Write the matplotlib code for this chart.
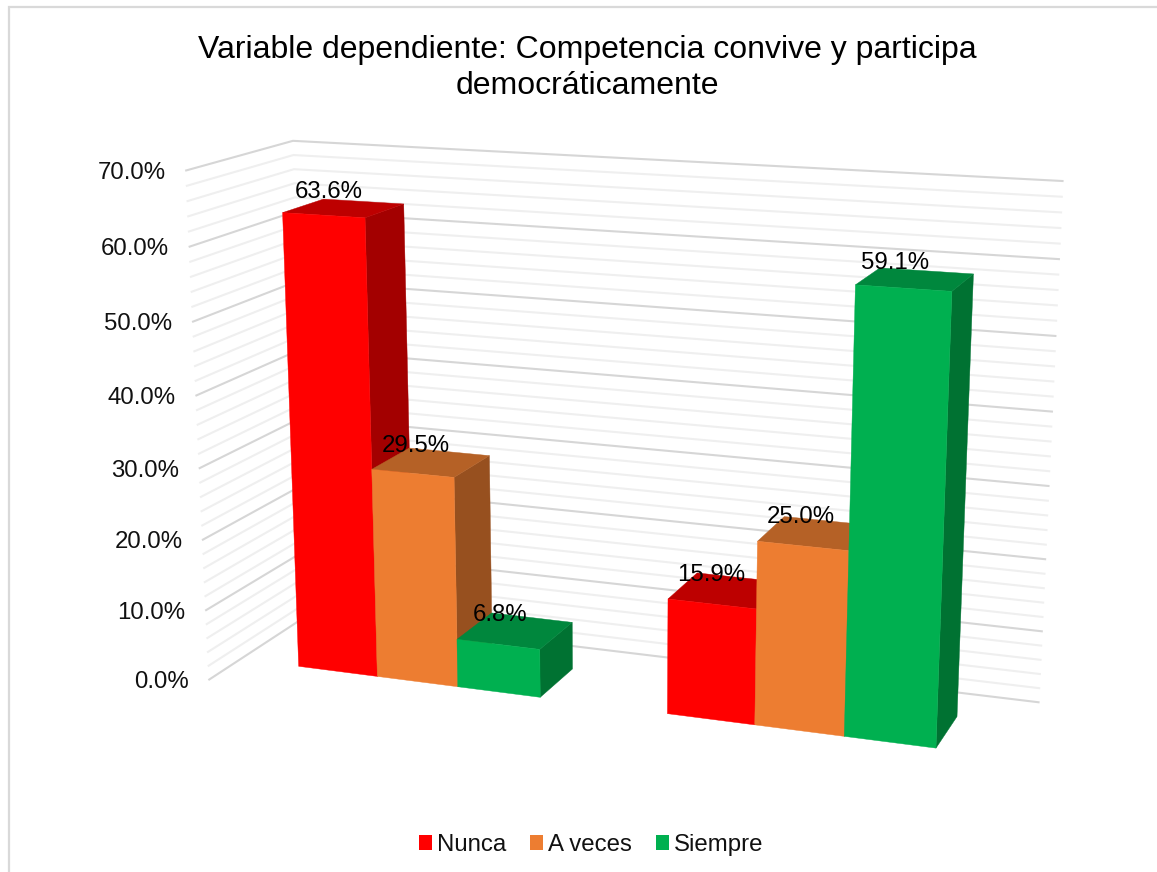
import numpy as np
import matplotlib
matplotlib.use("Agg")
import matplotlib.pyplot as plt
from matplotlib.patches import Patch

plt.rcParams['font.family'] = ['Liberation Sans', 'DejaVu Sans']

# ---- data ----
title = "Variable dependiente: Competencia convive y participa\ndemocráticamente"
series_names = ["Nunca", "A veces", "Siempre"]
nunca = [63.6, 15.9]
a_veces = [29.5, 25.0]
siempre = [6.8, 59.1]
y_ticks = [0, 10, 20, 30, 40, 50, 60, 70]

# ---- styles ----
front_cols = ["#FF0000", "#ED7D31", "#00B050"]
top_cols = ["#BD0000", "#B56126", "#00873D"]
side_cols = ["#A30000", "#97501F", "#007232"]
GAP = 1.5        # gap between groups, in bar widths
DEPTH_GAP = 0.75  # wall margin in front of and behind the bars
GRID_MAJOR = "#D6D6D6"
GRID_MINOR = "#EFEFEF"

W, H = 1157, 872

# ---- camera: world (bar units, value, depth) -> canvas, fitted to the wall/bar layout ----
camera_world = np.array([
    (-.75, 0, -.75), (-.75, 70, -.75), (-.75, 70, 1.75), (8.25, 70, 1.75), (8.25, 0, 1.75),
    (8.25, 60, 1.75), (0, 0, 0), (1, 0, 0), (0, 63.6, 0), (1, 63.6, 0), (0, 63.6, 1),
    (1, 63.6, 1), (3, 0, 0), (3, 0, 1), (3, 6.8, 0), (3, 6.8, 1), (4.5, 0, 0), (5.5, 0, 0),
    (6.5, 0, 0), (7.5, 0, 0), (7.5, 0, 1), (7.5, 59.1, 0), (7.5, 59.1, 1), (6.5, 59.1, 0),
    (6.5, 59.1, 1)], dtype=float)
camera_canvas = np.array([
    (209, 680), (186, 171), (293, 141), (1063, 181), (1039, 702),
    (1059, 259), (299, 667), (378, 676), (283, 212), (365, 217), (323, 199),
    (404, 204), (540, 697), (572, 669), (540, 649), (572, 622), (667, 714), (755, 725),
    (844, 736), (936, 748), (957, 717), (952, 291), (973, 274), (856, 285),
    (879, 269)], dtype=float)


def fit_camera(world, canvas):
    rows, rhs = [], []
    for (x, y, z), (u, v) in zip(world, canvas):
        rows.append([x, y, z, 1, 0, 0, 0, 0, -u * x, -u * y, -u * z]); rhs.append(u)
        rows.append([0, 0, 0, 0, x, y, z, 1, -v * x, -v * y, -v * z]); rhs.append(v)
    sol = np.linalg.lstsq(np.array(rows), np.array(rhs), rcond=None)[0]
    return np.append(sol, 1).reshape(3, 4)


P = fit_camera(camera_world, camera_canvas)


def proj(x, y, z):
    p = P @ np.array([x, y, z, 1.0])
    return p[0] / p[2], p[1] / p[2]


# ---- figure ----
fig = plt.figure(figsize=(W / 100, H / 100), dpi=100)
ax = fig.add_axes([0, 0, 1, 1])
ax.set_xlim(0, W)
ax.set_ylim(H, 0)
ax.axis("off")

# chart frame
ax.plot([9, 9, W], [H, 7, 7], color="#D9D9D9", lw=1.6, solid_joinstyle="miter", zorder=0)

# walls
xl = -GAP / 2
xr = 2 * (3 + GAP) - GAP / 2
zf = -DEPTH_GAP
zb = 1 + DEPTH_GAP
for v in range(0, max(y_ticks) + 1, 2):
    major = v % 10 == 0
    pts = [proj(xl, v, zf), proj(xl, v, zb), proj(xr, v, zb)]
    ax.plot(*zip(*pts), color=GRID_MAJOR if major else GRID_MINOR,
            lw=1.5, solid_joinstyle="miter", zorder=1 if not major else 2)

# y tick labels
for v in y_ticks:
    px, py = proj(xl, v, zf)
    ax.text(px - 20.5, py + 2.5, f"{v:.1f}%", ha="right", va="center", fontsize=17.3, color="#111111", zorder=6)

# bars
series = [nunca, a_veces, siempre]
z = 3
for g in range(2):
    x0 = g * (3 + GAP)
    for s, vals in enumerate(series):
        v = vals[g]
        a, b = x0 + s, x0 + s + 1
        side = [proj(b, 0, 0), proj(b, 0, 1), proj(b, v, 1), proj(b, v, 0)]
        top = [proj(a, v, 0), proj(b, v, 0), proj(b, v, 1), proj(a, v, 1)]
        front = [proj(a, 0, 0), proj(b, 0, 0), proj(b, v, 0), proj(a, v, 0)]
        for poly, col in ((side, side_cols[s]), (top, top_cols[s]), (front, front_cols[s])):
            ax.fill(*zip(*poly), facecolor=col, edgecolor=col, lw=0.3, zorder=z)
            z += 0.01

# data labels
for g in range(2):
    x0 = g * (3 + GAP)
    for s, vals in enumerate(series):
        v = vals[g]
        px, py = proj(x0 + s + .5, v, .5)
        dx = -20 if (g, s) == (1, 2) else -15
        ax.text(px + dx, py - 16, f"{v:.1f}%", ha="center", va="center",
                fontsize=17.3, color="#000000", zorder=8)

# title
ax.text(587, 68, title, ha="center", va="center", fontsize=23, color="#000000",
        linespacing=1.25, zorder=8)

# legend
handles = [Patch(facecolor=c, edgecolor="none", label=n) for c, n in zip(front_cols, series_names)]
ax.legend(handles=handles, loc="center", bbox_to_anchor=(591 / W, 1 - 845 / H), ncol=3,
          frameon=False, fontsize=17.3, handlelength=0.55, handleheight=0.55,
          handletextpad=0.2, columnspacing=1.0, labelcolor="#111111")

fig.savefig("out.png", dpi=100)
